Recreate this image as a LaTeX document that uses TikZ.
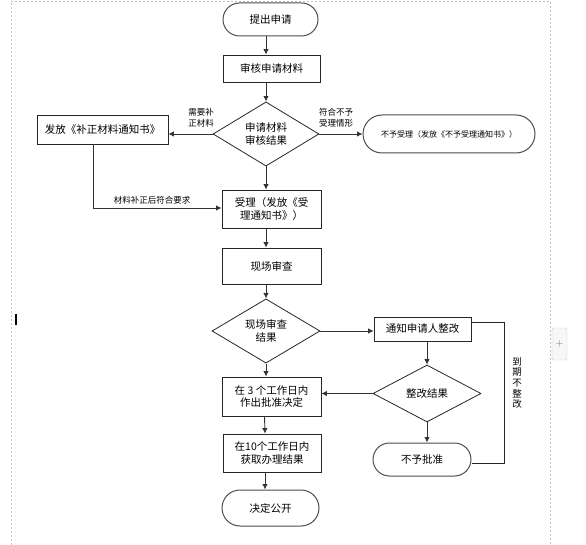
\documentclass[tikz,border=0pt]{standalone}
\usepackage{fontspec}
\newfontfamily\cjk{Noto Sans CJK SC}
\usetikzlibrary{shapes.geometric,shapes.misc,arrows.meta}
\tikzset{
  boxtext/.style={font=\cjk\fontsize{10.5}{12.5}\selectfont},
  procbox/.style={draw=black!85,line width=0.8pt,rectangle,inner sep=0pt,align=center,boxtext},
  termbox/.style={draw=black!70,line width=1pt,rounded rectangle,inner sep=0pt,align=center,boxtext},
  decbox/.style={draw=black!85,line width=0.8pt,diamond,inner sep=0pt,align=center,boxtext},
  lbl/.style={font=\cjk\fontsize{8.5}{11.5}\selectfont,align=center,inner sep=0pt},
  flow/.style={draw=black!80,line width=0.9pt,-{Latex[length=5.5pt,width=5.5pt]}},
  plain/.style={draw=black!85,line width=0.9pt},
  pageedge/.style={draw=black!25,line width=0.6pt,dash pattern=on 2pt off 2pt}
}
\begin{document}
\begin{tikzpicture}[x=1pt,y=-1pt]
\useasboundingbox (0,0) rectangle (586,545);
% page frame and screen artefacts
\draw[pageedge] (11,545) -- (11,1) -- (550,1) -- (550,545);
\node[draw=black!20,fill=black!3,rounded corners=2pt,minimum width=15pt,minimum height=32pt,inner sep=0pt,
      font=\fontsize{10}{10}\selectfont,text=black!55] (plus) at (559.5,344) {+};
\draw[line width=1.4pt] (16,314) coordinate (cur1) -- (16,325) coordinate (cur2);

% nodes
\node[termbox,minimum width=95pt,minimum height=33pt] (start) at (270.5,19.5) {提出申请};
\node[procbox,minimum width=97pt,minimum height=27pt] (review) at (271.5,68.5) {审核申请材料};
\node[decbox,minimum width=106pt,minimum height=55pt] (d1) at (266,134) {申请材料\\审核结果};
\node[procbox,minimum width=131pt,minimum height=29pt] (bz) at (102.5,129.5) {发放《补正材料通知书》};
\node[termbox,minimum width=172pt,minimum height=38pt,font=\cjk\fontsize{8}{10}\selectfont] (reject) at (449,134) {不予受理（发放《不予受理通知书》）};
\node[procbox,minimum width=99pt,minimum height=38pt] (accept) at (271.5,209) {受理（发放《受\\理通知书》）};
\node[procbox,minimum width=99pt,minimum height=36pt] (site) at (271.5,266) {现场审查};
\node[decbox,minimum width=108pt,minimum height=56pt] (d2) at (266,331) {现场审查\\结果};
\node[procbox,minimum width=97pt,minimum height=24pt] (notify) at (422.5,329) {通知申请人整改};
\node[decbox,minimum width=108pt,minimum height=57pt] (d3) at (427,393.5) {整改结果};
\node[termbox,minimum width=98pt,minimum height=33pt] (nopass) at (422,459.5) {不予批准};
\node[procbox,minimum width=99pt,minimum height=39pt] (decide) at (271.5,396.5) {在 3 个工作日内\\作出批准决定};
\node[procbox,minimum width=98pt,minimum height=38pt] (obtain) at (272,453) {在10个工作日内\\获取办理结果};
\node[termbox,minimum width=97pt,minimum height=36pt] (public) at (270.5,508) {决定公开};

% labels
\node[lbl] (l1) at (201,118) {需要补\\正材料};
\node[lbl] (l2) at (336,118) {符合不予\\受理情形};
\node[lbl] (l3) at (152,200) {材料补正后符合要求};
\node[lbl,font=\cjk\fontsize{9.5}{10.7}\selectfont] (l4) at (517,383) {到\\期\\不\\整\\改};

% connectors
\draw[flow] (start.south -| d1.north) -- (review.north -| d1.north);
\draw[flow] (review.south -| d1.north) -- (d1.north);
\draw[flow] (d1.west) -- (d1.west -| bz.east);
\draw[flow] (d1.east) -- (reject.west);
\draw[flow] (d1.south) -- (accept.north -| d1.south);
\draw[flow] ([xshift=-9.5pt]bz.south) |- ([yshift=1pt]accept.west);
\draw[flow] (accept.south -| d1.south) -- (site.north -| d1.south);
\draw[flow] (site.south -| d2.north) -- (d2.north);
\draw[flow] (d2.east) -- (d2.east -| notify.west);
\draw[flow] (d2.south) -- (decide.north -| d2.south);
\draw[flow] (notify.south -| d3.north) -- (d3.north);
\draw[flow] (d3.west) -- (d3.west -| decide.east);
\draw[flow] (d3.south) -- (nopass.north -| d3.south);
\draw[flow] ([xshift=-7pt]decide.south) -- ([xshift=-7pt]obtain.north);
\draw[flow] ([xshift=-7pt]obtain.south) -- ([xshift=-5.5pt]public.north);
\coordinate (br1) at (504,322);
\coordinate (br2) at (504,463);
\draw[plain] (br1 -| notify.east) -- (br1) -- (br2) -- (br2 -| nopass.east);
\end{tikzpicture}
\end{document}
